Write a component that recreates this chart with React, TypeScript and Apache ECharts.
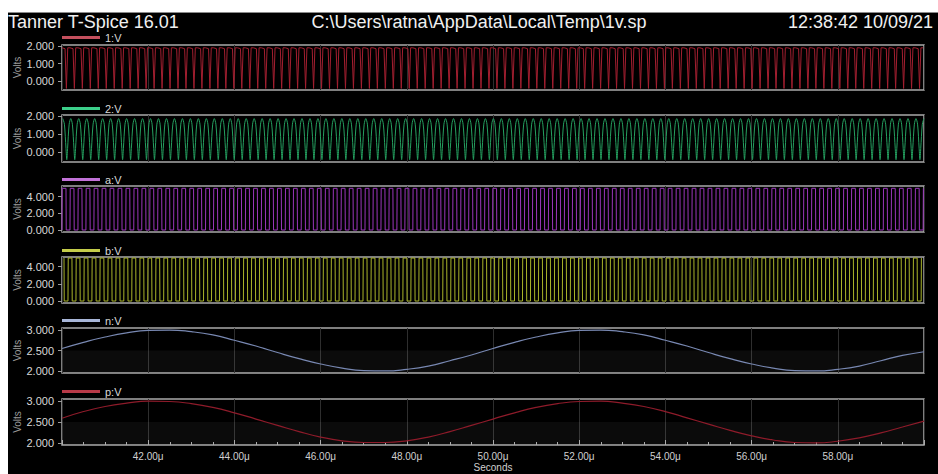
import React, { useEffect, useRef } from "react";
import * as echarts from "echarts";

// ---- Data ----
const timeStart = 40; // μs
const timeEnd = 60; // μs
const tickLabels = ["42.00μ", "44.00μ", "46.00μ", "48.00μ", "50.00μ", "52.00μ", "54.00μ", "56.00μ", "58.00μ"];

// Fast oscillating nodes: period (μs) and one cycle's shape (phase fraction, volts)
const periodFast = 0.185;
const phase1 = [0, 0.38, 0.55, 0.72];
const volt1 = [1.9, 1.85, -0.42, 1.9];
const phase2 = [0, 0.2, 0.4, 0.5, 0.6, 0.8];
const volt2 = [1.86, 1.55, 0.2, -0.42, 0.2, 1.55];
const phaseA = [0, 0.03, 0.5, 0.53];
const voltA = [0.0, 5.0, 5.0, 0.0];
const phaseB = [0, 0.03, 0.5, 0.53];
const voltB = [5.0, 0.0, 0.0, 5.0];
const offsetB = 0.25; // phase offset of b vs a (cycles)

// Slow nodes sampled every 0.5 μs from 40 μs to 60 μs
const slowTimes = [40, 40.5, 41, 41.5, 42, 42.5, 43, 43.5, 44, 44.5, 45, 45.5, 46, 46.5, 47, 47.5, 48, 48.5, 49, 49.5, 50, 50.5, 51, 51.5, 52, 52.5, 53, 53.5, 54, 54.5, 55, 55.5, 56, 56.5, 57, 57.5, 58, 58.5, 59, 59.5, 60];
const voltN = [2.55, 2.70, 2.83, 2.93, 2.99, 3.00, 2.96, 2.88, 2.75, 2.61, 2.45, 2.30, 2.17, 2.07, 2.01, 2.00, 2.04, 2.12, 2.25, 2.39, 2.55, 2.70, 2.83, 2.93, 2.99, 3.00, 2.96, 2.88, 2.75, 2.61, 2.45, 2.30, 2.17, 2.07, 2.01, 2.00, 2.04, 2.12, 2.25, 2.38, 2.47];
const voltP = [2.59, 2.75, 2.87, 2.95, 3.00, 2.99, 2.94, 2.85, 2.72, 2.57, 2.42, 2.27, 2.14, 2.05, 2.01, 2.01, 2.05, 2.14, 2.27, 2.42, 2.57, 2.72, 2.85, 2.94, 2.99, 3.00, 2.95, 2.87, 2.75, 2.60, 2.45, 2.30, 2.17, 2.07, 2.01, 2.00, 2.04, 2.12, 2.24, 2.38, 2.52];

const seriesNames = ["1:V", "2:V", "a:V", "b:V", "n:V", "p:V"];
const colors = ["#a31f30", "#25a060", "#9b36bb", "#a9b42a", "#7888b2", "#8e1b2a"];
const legendColors = ["#c4505e", "#3ccf8a", "#c272d8", "#c4cc4a", "#a8b6d8", "#b83a48"];
const yMins = [-0.51, -0.55, -0.24, -0.23, 1.95, 1.95];
const yMaxs = [2.06, 2.06, 5.28, 5.12, 3.05, 3.05];
const yTicks = [[0, 1, 2], [0, 1, 2], [0, 2, 4], [0, 2, 4], [2, 2.5, 3], [2, 2.5, 3]];

function tile(phases: number[], volts: number[], offset: number) {
  const out: number[][] = [];
  const nCycles = Math.ceil((timeEnd - timeStart) / periodFast) + 2;
  for (let k = -1; k < nCycles; k++) {
    for (let i = 0; i < phases.length; i++) {
      const t = timeStart + (k + phases[i] + offset) * periodFast;
      if (t >= timeStart && t <= timeEnd) out.push([t, volts[i]]);
    }
  }
  return out;
}

export default function App() {
  const ref = useRef<HTMLDivElement>(null);
  useEffect(() => {
    if (!ref.current) return;
    const chart = echarts.init(ref.current, undefined, { renderer: "svg" });
    const W = 930;
    const gridTops = [33, 103, 174, 245, 316, 387];
    const gridHeights = [45, 47, 46, 46, 45, 46];
    const legendCenters = [25, 96, 167, 238, 308, 379];

    const data = [
      tile(phase1, volt1, 0),
      tile(phase2, volt2, 0.1),
      tile(phaseA, voltA, 0),
      tile(phaseB, voltB, offsetB),
      slowTimes.map((t, i) => [t, voltN[i]]),
      slowTimes.map((t, i) => [t, voltP[i]]),
    ];

    const font = "Liberation Sans, Arial, sans-serif";
    const option: any = {
      animation: false,
      backgroundColor: "#000",
      textStyle: { fontFamily: font },
      grid: gridTops.map((top, i) => ({
        left: 54,
        right: 14,
        top,
        height: gridHeights[i],
        containLabel: false,
        outerBoundsMode: "none",
        show: true,
        backgroundColor: "#000",
        borderColor: "#a9a9a9",
        borderWidth: 1.5,
      })),
      legend: seriesNames.map((n, i) => ({
        data: [{ name: n, itemStyle: { color: legendColors[i] } }],
        left: 54,
        top: legendCenters[i] - 7,
        icon: "rect",
        itemWidth: 38,
        itemHeight: 3,
        itemGap: 6,
        padding: [2, 0, 2, 0],
        textStyle: { color: "#d8d8d8", fontSize: 11, fontFamily: font },
        selectedMode: false,
      })),
      xAxis: gridTops.map((_, i) => ({
        type: "value",
        gridIndex: i,
        min: timeStart,
        max: timeEnd,
        interval: 2,
        axisLine: { show: false },
        axisTick: i === 5 ? { show: true, inside: true, length: 5, lineStyle: { color: "#a9a9a9" } } : { show: false },
        minorTick: i === 5 ? { show: true, splitNumber: 4, length: 3, lineStyle: { color: "#a9a9a9" } } : { show: false },
        splitLine: { show: true, lineStyle: { color: "#2e2e2e", width: 1 } },
        axisLabel: i === 5
          ? {
              show: true,
              color: "#d0d0d0",
              fontSize: 10,
              margin: 6,
              formatter: (v: number) => {
                const idx = Math.round((v - 42) / 2);
                return v <= timeStart || v >= timeEnd ? "" : tickLabels[idx];
              },
            }
          : { show: false },
        name: i === 5 ? "Seconds" : "",
        nameLocation: "middle",
        nameGap: 17,
        nameMoveOverlap: false,
        nameTextStyle: { color: "#d0d0d0", fontSize: 10 },
      })),
      yAxis: gridTops.map((_, i) => ({
        type: "value",
        gridIndex: i,
        min: yMins[i],
        max: yMaxs[i],
        name: "Volts",
        nameLocation: "middle",
        nameGap: 40,
        nameRotate: 90,
        nameMoveOverlap: false,
        nameTextStyle: { color: "#9a9a9a", fontSize: 10 },
        axisLine: { show: false },
        axisTick: { show: true, length: 4, customValues: yTicks[i], lineStyle: { color: "#9a9a9a" } },
        axisLabel: {
          show: true,
          customValues: yTicks[i],
          color: "#d8d8d8",
          fontSize: 11,
          margin: 8,
          formatter: (v: number) => v.toFixed(3),
        },
        splitLine: { show: false },
      })),
      series: seriesNames.map((n, i) => ({
        name: n,
        type: "line",
        xAxisIndex: i,
        yAxisIndex: i,
        data: data[i],
        showSymbol: false,
        symbol: "none",
        smooth: i === 1 ? 0.3 : i >= 4,
        color: colors[i],
        lineStyle: { color: colors[i], width: i >= 4 ? 1.2 : 1 },
        markArea:
          i >= 4
            ? {
                silent: true,
                itemStyle: { color: "rgba(255,255,255,0.045)" },
                data: [[{ yAxis: yMins[i] }, { yAxis: 2.5 }]],
              }
            : undefined,
      })),
      graphic: [
        { type: "line", shape: { x1: 0, y1: 0.5, x2: W, y2: 0.5 }, style: { stroke: "#8a8a8a", lineWidth: 1 } },
        {
          type: "text",
          x: 0,
          y: 1,
          style: { text: "Tanner T-Spice 16.01", fill: "#f0f0f0", fontSize: 18, fontFamily: font },
        },
        {
          type: "text",
          x: 471,
          y: 1,
          style: { text: "C:\\Users\\ratna\\AppData\\Local\\Temp\\1v.sp", fill: "#f0f0f0", fontSize: 18, fontFamily: font, textAlign: "center" },
        },
        {
          type: "text",
          x: 780,
          y: 1,
          style: { text: "12:38:42 10/09/21", fill: "#f0f0f0", fontSize: 18, fontFamily: font },
        },
      ],
    };
    chart.setOption(option);
    return () => chart.dispose();
  }, []);
  return (
    <div
      ref={ref}
      style={{ position: "fixed", left: 8, top: 12, width: 930, height: 462, overflow: "hidden" }}
    />
  );
}
